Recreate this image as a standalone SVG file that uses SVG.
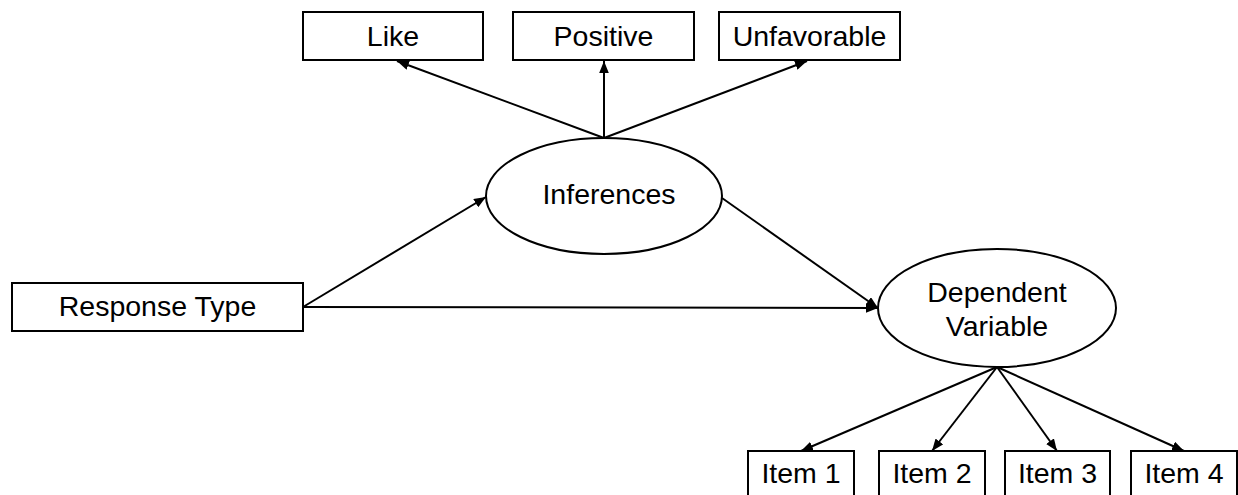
<svg xmlns="http://www.w3.org/2000/svg" width="1238" height="495" viewBox="0 0 1238 495">
  <style>
    .box { fill: #fff; stroke: #000; stroke-width: 2; }
    .oval { fill: #fff; stroke: #000; stroke-width: 2; }
    .label { font-family: "Liberation Sans", Arial, sans-serif; font-size: 28.5px; fill: #000; text-anchor: middle; }
    .edge { stroke: #000; stroke-width: 2; fill: none; marker-end: url(#arrow); }
  </style>
  <defs>
    <marker id="arrow" viewBox="0 0 10 8" refX="10" refY="4" markerWidth="6" markerHeight="4.8" orient="auto" markerUnits="strokeWidth">
      <path d="M0,0 L10,4 L0,8 Z" fill="#000"/>
    </marker>
  </defs>
  <rect width="1238" height="495" fill="#fff"/>

  <g id="connectors">
    <line class="edge" x1="604" y1="138" x2="397" y2="61"/>
    <line class="edge" x1="604" y1="138" x2="604" y2="61"/>
    <line class="edge" x1="604" y1="138" x2="807" y2="61"/>
    <line class="edge" x1="303" y1="307" x2="486" y2="197"/>
    <line class="edge" x1="303" y1="307" x2="878" y2="308"/>
    <line class="edge" x1="722" y1="198" x2="878" y2="308"/>
    <line class="edge" x1="997" y1="367" x2="801" y2="451"/>
    <line class="edge" x1="997" y1="367" x2="932" y2="451"/>
    <line class="edge" x1="997" y1="367" x2="1057" y2="451"/>
    <line class="edge" x1="997" y1="367" x2="1184" y2="451"/>
  </g>

  <g id="like">
    <rect class="box" x="303" y="12" width="180" height="48"/>
    <text class="label" x="393" y="46">Like</text>
  </g>
  <g id="positive">
    <rect class="box" x="513" y="12" width="181" height="48"/>
    <text class="label" x="603.5" y="46">Positive</text>
  </g>
  <g id="unfavorable">
    <rect class="box" x="719" y="12" width="181" height="48"/>
    <text class="label" x="809.5" y="46">Unfavorable</text>
  </g>

  <g id="inferences">
    <ellipse class="oval" cx="604" cy="196" rx="118" ry="58"/>
    <text class="label" x="609" y="204">Inferences</text>
  </g>

  <g id="response-type">
    <rect class="box" x="12" y="283" width="291" height="48"/>
    <text class="label" x="157.5" y="316">Response Type</text>
  </g>

  <g id="dependent-variable">
    <ellipse class="oval" cx="997" cy="308" rx="119" ry="59"/>
    <text class="label" x="997" y="302">Dependent</text>
    <text class="label" x="997" y="336">Variable</text>
  </g>

  <g id="item-1">
    <rect class="box" x="748" y="451" width="106" height="50"/>
    <text class="label" x="801" y="483">Item 1</text>
  </g>
  <g id="item-2">
    <rect class="box" x="879" y="451" width="106" height="50"/>
    <text class="label" x="932" y="483">Item 2</text>
  </g>
  <g id="item-3">
    <rect class="box" x="1005" y="451" width="105" height="50"/>
    <text class="label" x="1057.5" y="483">Item 3</text>
  </g>
  <g id="item-4">
    <rect class="box" x="1131" y="451" width="106" height="50"/>
    <text class="label" x="1184" y="483">Item 4</text>
  </g>
</svg>
